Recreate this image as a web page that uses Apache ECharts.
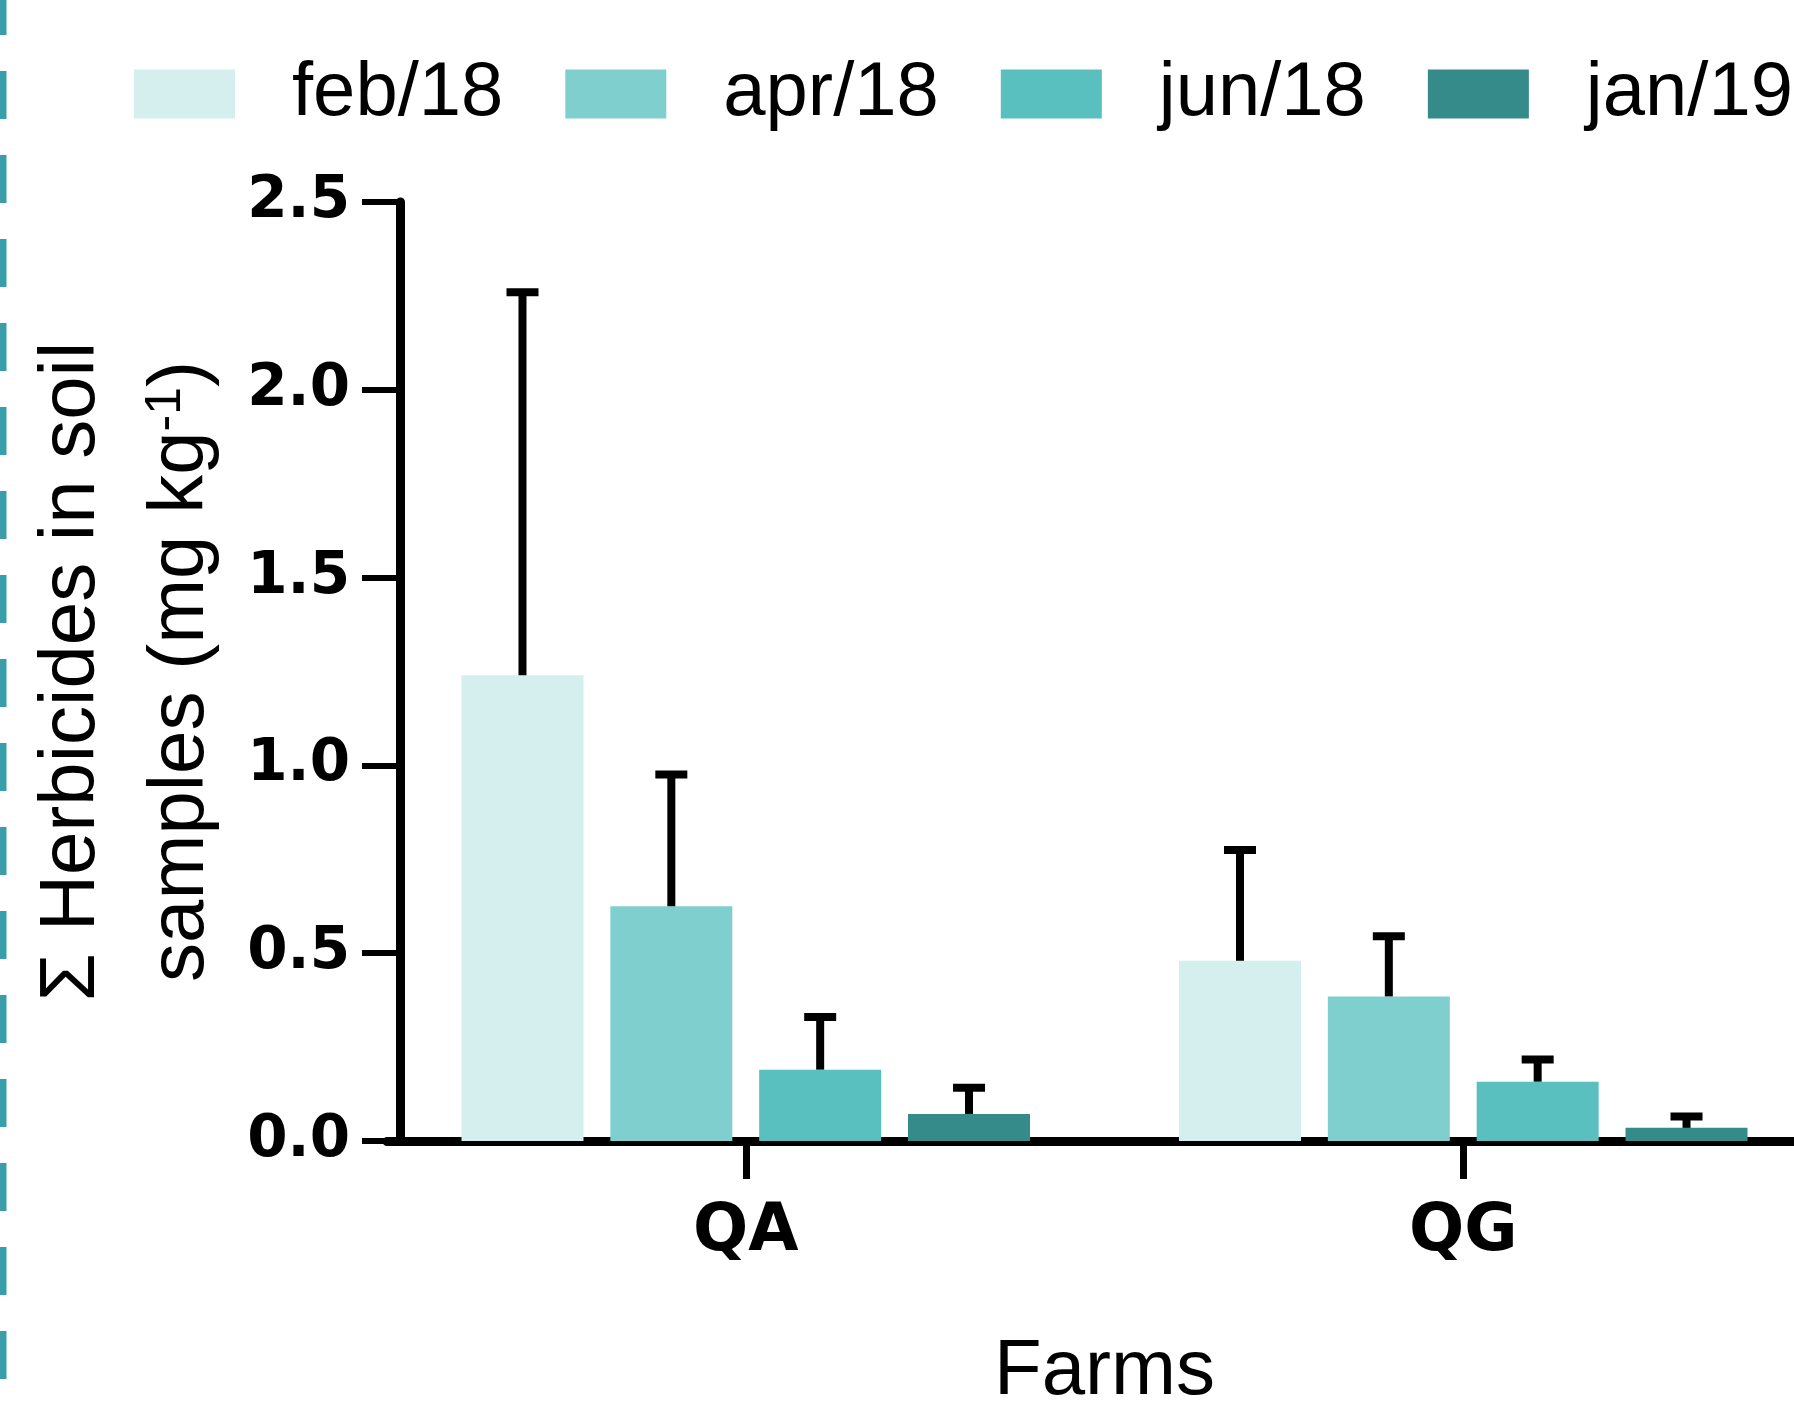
<!DOCTYPE html>
<html lang="en">
<head>
    <meta charset="UTF-8">
    <title>Herbicides in soil samples</title>
    <script src="https://cdn.jsdelivr.net/npm/echarts@6/dist/echarts.min.js"></script>
    <style>
        html, body { margin: 0; padding: 0; background: #fff; }
        #chart { width: 1794px; height: 1403px; }
    </style>
</head>
<body>
<div id="chart"></div>
<script type="text/javascript">
    // data
    var farms = ['QA', 'QG'];
    var periods = ['feb/18', 'apr/18', 'jun/18', 'jan/19'];
    var febMean = [1.24, 0.48];
    var aprMean = [0.625, 0.385];
    var junMean = [0.19, 0.158];
    var janMean = [0.072, 0.035];
    var febSd = [1.02, 0.295];
    var aprSd = [0.351, 0.16];
    var junSd = [0.14, 0.059];
    var janSd = [0.07, 0.03];
    var yTicks = [0, 0.5, 1.0, 1.5, 2.0, 2.5];

    var means = [febMean, aprMean, junMean, janMean];
    var sds = [febSd, aprSd, junSd, janSd];
    var colors = ['#d5eeee', '#80cfcf', '#5abfbf', '#358b8a'];

    var barW = 122, gapRatio = 0.22;
    var sans = 'Liberation Sans, Arial, sans-serif';
    var bold = 'DejaVu Sans, sans-serif';

    var series = [];
    for (let i = 0; i < periods.length; i++) {
        series.push({
            name: periods[i],
            type: 'bar',
            barWidth: barW,
            barGap: (gapRatio * 100) + '%',
            itemStyle: { color: colors[i] },
            z: 2,
            data: means[i]
        });
    }
    // error bars (upper only)
    for (let i = 0; i < periods.length; i++) {
        let errData = [];
        for (let j = 0; j < farms.length; j++) {
            errData.push([j, means[i][j], means[i][j] + sds[i][j]]);
        }
        series.push({
            type: 'custom',
            z: 3,
            silent: true,
            encode: { x: 0, y: [1, 2] },
            data: errData,
            renderItem: (function (idx) {
                return function (params, api) {
                    var off = (idx - 1.5) * barW * (1 + gapRatio);
                    var lo = api.coord([api.value(0), api.value(1)]);
                    var hi = api.coord([api.value(0), api.value(2)]);
                    var x = lo[0] + off;
                    var st = { stroke: '#000', lineWidth: 8, fill: null };
                    return {
                        type: 'group',
                        children: [
                            { type: 'line', shape: { x1: x, y1: lo[1], x2: x, y2: hi[1] }, style: st },
                            { type: 'line', shape: { x1: x - 16, y1: hi[1], x2: x + 16, y2: hi[1] }, style: st }
                        ]
                    };
                };
            })(i)
        });
    }

    var option = {
        backgroundColor: '#fff',
        animation: false,
        legend: {
            data: periods,
            left: 134,
            top: 56,
            padding: 0,
            icon: 'rect',
            itemWidth: 101,
            itemHeight: 49,
            itemGap: 62,
            textStyle: { fontFamily: sans, fontSize: 76, color: '#000', padding: [0, 0, 0, 52] }
        },
        grid: { left: 387, top: 202, width: 1435, height: 939, containLabel: false, outerBoundsMode: 'none' },
        xAxis: {
            type: 'category',
            data: farms,
            name: 'Farms',
            nameLocation: 'middle',
            nameGap: 192,
            nameTextStyle: { fontFamily: sans, fontSize: 78, color: '#000' },
            axisLine: { lineStyle: { color: '#000', width: 9 } },
            axisTick: { show: true, alignWithLabel: true, length: 38, lineStyle: { color: '#000', width: 7 } },
            axisLabel: { fontFamily: bold, fontWeight: 'bold', fontSize: 65, color: '#000', margin: 60 },
            splitLine: { show: false }
        },
        yAxis: {
            type: 'value',
            min: yTicks[0],
            max: yTicks[yTicks.length - 1],
            interval: 0.5,
            offset: -13,
            name: '{a|Σ Herbicides in soil}\n{a|samples (mg kg}{s|-1}{a|)}',
            nameLocation: 'middle',
            nameGap: 152,
            nameTextStyle: {
                fontFamily: sans, fontSize: 78, color: '#000', lineHeight: 109,
                rich: {
                    a: { fontFamily: sans, fontSize: 78, lineHeight: 109, color: '#000' },
                    s: { fontFamily: sans, fontSize: 50, lineHeight: 109, color: '#000', verticalAlign: 'top', padding: [14, 0, 0, 0] }
                }
            },
            axisLine: { show: true, lineStyle: { color: '#000', width: 9 } },
            axisTick: { show: true, length: 38, lineStyle: { color: '#000', width: 6 } },
            axisLabel: {
                fontFamily: bold, fontWeight: 'bold', fontSize: 58, color: '#000', margin: 50,
                formatter: function (v) { return v.toFixed(1); }
            },
            splitLine: { show: false }
        },
        graphic: [{
            type: 'line',
            shape: { x1: 3, y1: -13, x2: 3, y2: 1403 },
            style: { stroke: '#399dab', lineWidth: 7, lineDash: [48, 36] },
            silent: true
        }],
        series: series
    };

    var myChart = echarts.init(document.getElementById('chart'));
    myChart.setOption(option);
</script>
</body>
</html>
